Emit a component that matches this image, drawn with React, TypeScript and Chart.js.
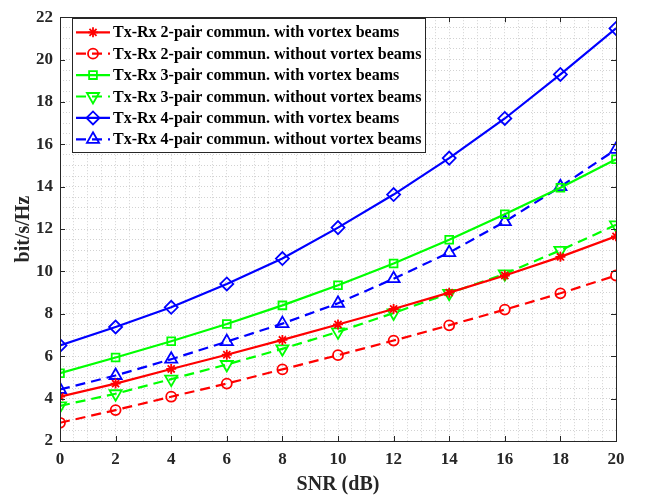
import React, { useEffect, useRef } from 'react';
import { Chart, registerables } from 'chart.js';
import { drawPoint } from 'chart.js/helpers';

Chart.register(...registerables);

const snr = [0, 2, 4, 6, 8, 10, 12, 14, 16, 18, 20];
const xTickLabels = [0, 2, 4, 6, 8, 10, 12, 14, 16, 18, 20];
const yTickLabels = [2, 4, 6, 8, 10, 12, 14, 16, 18, 20, 22];

const seriesLabels = [
  'Tx-Rx 2-pair commun. with vortex beams',
  'Tx-Rx 2-pair commun. without vortex beams',
  'Tx-Rx 3-pair commun. with vortex beams',
  'Tx-Rx 3-pair commun. without vortex beams',
  'Tx-Rx 4-pair commun. with vortex beams',
  'Tx-Rx 4-pair commun. without vortex beams',
];

const pair2With = [4.09, 4.71, 5.4, 6.07, 6.77, 7.5, 8.23, 9.0, 9.81, 10.69, 11.66];
const pair2Without = [2.86, 3.46, 4.09, 4.71, 5.38, 6.05, 6.74, 7.46, 8.2, 8.97, 9.81];
const pair3With = [5.2, 5.94, 6.71, 7.52, 8.4, 9.35, 10.38, 11.5, 12.7, 13.95, 15.3];
const pair3Without = [3.66, 4.23, 4.92, 5.61, 6.35, 7.15, 8.04, 8.97, 9.89, 11.0, 12.2];
const pair4With = [6.51, 7.38, 8.31, 9.41, 10.61, 12.07, 13.63, 15.35, 17.22, 19.3, 21.47];
const pair4Without = [4.43, 5.09, 5.86, 6.69, 7.54, 8.5, 9.66, 10.89, 12.35, 14.0, 15.76];

const FONT = "'Liberation Serif', 'Times New Roman', serif";
const AXIS_COLOR = '#262626';

type Style = { color: string; dash: number[]; point: string; radius: number; rotation: number };
const styles: Style[] = [
  { color: '#ff0000', dash: [], point: 'star', radius: 5, rotation: 0 },
  { color: '#ff0000', dash: [10, 6], point: 'circle', radius: 5, rotation: 0 },
  { color: '#00ff00', dash: [], point: 'rect', radius: 5.5, rotation: 0 },
  { color: '#00ff00', dash: [10, 6], point: 'triangle', radius: 7, rotation: 180 },
  { color: '#0000ff', dash: [], point: 'rectRot', radius: 6.5, rotation: 0 },
  { color: '#0000ff', dash: [10, 6], point: 'triangle', radius: 7, rotation: 0 },
];
const seriesValues = [pair2With, pair2Without, pair3With, pair3Without, pair4With, pair4Without];

const framePlugin = {
  id: 'frame',
  afterDraw(chart: any) {
    const { ctx, chartArea, scales } = chart;
    const { left, right, top, bottom } = chartArea;
    const xs = scales.x;
    const ys = scales.y;
    ctx.save();
    ctx.strokeStyle = AXIS_COLOR;
    ctx.lineWidth = 1;
    ctx.setLineDash([]);
    ctx.strokeRect(Math.round(left) + 0.5, Math.round(top) + 0.5, Math.round(right - left), Math.round(bottom - top));
    const tl = 5;
    ctx.beginPath();
    xTickLabels.forEach((v) => {
      const px = Math.round(xs.getPixelForValue(v)) + 0.5;
      ctx.moveTo(px, bottom);
      ctx.lineTo(px, bottom - tl);
      ctx.moveTo(px, top);
      ctx.lineTo(px, top + tl);
    });
    yTickLabels.forEach((v) => {
      const py = Math.round(ys.getPixelForValue(v)) + 0.5;
      ctx.moveTo(left, py);
      ctx.lineTo(left + tl, py);
      ctx.moveTo(right, py);
      ctx.lineTo(right - tl, py);
    });
    ctx.stroke();

    // legend
    const bx = 72, by = 18, bw = 353, bh = 134;
    ctx.fillStyle = '#ffffff';
    ctx.fillRect(bx, by, bw, bh);
    ctx.strokeStyle = AXIS_COLOR;
    ctx.strokeRect(bx + 0.5, by + 0.5, bw, bh);
    const rowH = 21.4;
    const row0 = 32.3;
    ctx.font = `bold 16px ${FONT}`;
    ctx.textBaseline = 'middle';
    ctx.textAlign = 'left';
    seriesLabels.forEach((lab, i) => {
      const st = styles[i];
      const cy = row0 + i * rowH;
      ctx.strokeStyle = st.color;
      ctx.lineWidth = 2.2;
      ctx.setLineDash(st.dash);
      ctx.beginPath();
      ctx.moveTo(76, cy);
      ctx.lineTo(110, cy);
      ctx.stroke();
      ctx.setLineDash([]);
      ctx.fillStyle = 'rgba(0,0,0,0)';
      ctx.lineWidth = 1.8;
      drawPoint(ctx, { pointStyle: st.point as any, radius: st.radius, rotation: st.rotation, borderWidth: 1.8 } as any, 93, cy);
      ctx.fillStyle = '#000000';
      ctx.fillText(lab, 113, cy + 1);
    });
    ctx.restore();
  },
};

export default function App() {
  const ref = useRef<HTMLCanvasElement | null>(null);
  useEffect(() => {
    if (!ref.current) return;
    const datasets = seriesLabels.map((lab, i) => {
      const st = styles[i];
      return {
        label: lab,
        data: snr.map((x, j) => ({ x, y: seriesValues[i][j] })),
        borderColor: st.color,
        backgroundColor: 'rgba(0,0,0,0)',
        borderWidth: 2.2,
        borderDash: st.dash,
        pointStyle: st.point,
        pointRadius: st.radius,
        pointRotation: st.rotation,
        pointBorderColor: st.color,
        pointBackgroundColor: 'rgba(0,0,0,0)',
        pointBorderWidth: 1.8,
        tension: 0,
        fill: false,
      };
    });
    const gridColor = '#d2d2d2';
    const chart = new Chart(ref.current, {
      type: 'line',
      data: { datasets: datasets as any },
      plugins: [framePlugin],
      options: {
        responsive: false,
        animation: false,
        devicePixelRatio: 1,
        layout: { padding: { left: 0, top: 7, right: 29, bottom: 0 } },
        plugins: { legend: { display: false }, tooltip: { enabled: false } },
        scales: {
          x: {
            type: 'linear',
            min: 0,
            max: 20,
            afterFit: (s: any) => { s.height = 56; },
            border: { display: false, dash: [1, 2] },
            grid: { color: gridColor, lineWidth: 1, drawTicks: false },
            ticks: {
              stepSize: 0.5,
              autoSkip: false,
              maxRotation: 0,
              padding: 8,
              color: AXIS_COLOR,
              font: { family: FONT, size: 17, weight: 'bold' },
              callback: (v: any) => (Number(v) % 2 === 0 ? String(v) : ''),
            },
            title: {
              display: true,
              text: 'SNR (dB)',
              color: AXIS_COLOR,
              font: { family: FONT, size: 20, weight: 'bold' },
              padding: { top: 0, bottom: 0 },
            },
          },
          y: {
            type: 'linear',
            min: 2,
            max: 22,
            afterFit: (s: any) => { s.width = 60; },
            border: { display: false, dash: [1, 2] },
            grid: { color: gridColor, lineWidth: 1, drawTicks: false },
            ticks: {
              stepSize: 0.5,
              autoSkip: false,
              padding: 7,
              color: AXIS_COLOR,
              font: { family: FONT, size: 17, weight: 'bold' },
              callback: (v: any) => (Number(v) % 2 === 0 ? String(v) : ''),
            },
            title: {
              display: true,
              text: 'bit/s/Hz',
              color: AXIS_COLOR,
              font: { family: FONT, size: 20, weight: 'bold' },
              padding: { top: 12, bottom: 0 },
            },
          },
        },
      },
    });
    return () => chart.destroy();
  }, []);
  return (
    <div style={{ position: 'fixed', left: 0, top: 0, width: 645, height: 497, background: '#ffffff' }}>
      <canvas ref={ref} width={645} height={497} style={{ width: 645, height: 497, display: 'block' }} />
    </div>
  );
}
